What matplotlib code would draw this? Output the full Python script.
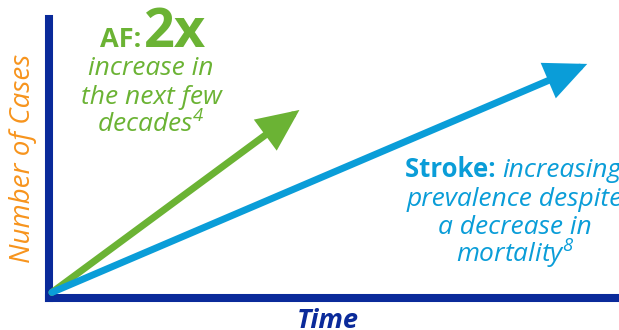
import matplotlib.pyplot as plt

plt.rcParams['font.family'] = ['Open Sans', 'DejaVu Sans']
plt.rcParams['mathtext.fontset'] = 'custom'
plt.rcParams['mathtext.rm'] = 'Open Sans:italic'
plt.rcParams['mathtext.it'] = 'Open Sans:italic'

# arrows: (time, cases) start and end, in axis units 0..100
af_time = [0.5, 43.5]
af_cases = [2, 67.4]
stroke_time = [0.5, 93.5]
stroke_cases = [2, 83.9]

af_lines = ['increase in', 'the next few', 'decades$^{4}$']
stroke_lines = ['prevalence despite', 'a decrease in', 'mortality$^{8}$']

navy = '#0a2a9a'
green = '#6bb334'
blue = '#0a9dd8'
orange = '#f7941d'

W, H = 619, 330
fig = plt.figure(figsize=(W / 100, H / 100), dpi=100)
ax = fig.add_axes([49 / W, 1 - 298 / H, 0.93, (298 - 19) / H])
ax.set_xlim(0, 100)
ax.set_ylim(0, 100)
ax.set_xticks([])
ax.set_yticks([])
for s in ['top', 'right']:
    ax.spines[s].set_visible(False)
for s in ['left', 'bottom']:
    ax.spines[s].set_linewidth(5.8)
    ax.spines[s].set_color(navy)
    ax.spines[s].set_capstyle('projecting')


def arrow(t, c, col):
    ax.annotate('', xy=(t[1], c[1]), xytext=(t[0], c[0]),
                arrowprops=dict(arrowstyle='-|>,head_length=1.1,head_width=0.5',
                                lw=5, color=col, mutation_scale=20,
                                shrinkA=0, shrinkB=0, joinstyle='miter'))


arrow(af_time, af_cases, green)
arrow(stroke_time, stroke_cases, blue)


def px(x, y):
    return x / W, 1 - y / H


# AF text
fig.text(*px(141, 47), 'AF:', color=green, fontsize=19.5, fontweight='bold',
         ha='right', va='baseline')
fig.text(*px(144, 47), '2x', color=green, fontsize=39, fontweight='bold',
         ha='left', va='baseline')
for i, line in enumerate(af_lines):
    fig.text(*px(151, 75 + i * 29), line, color=green, fontsize=19,
             style='italic', ha='center', va='baseline')

# Stroke text
t1 = fig.text(*px(405, 177), 'Stroke: ', color=blue, fontsize=18.5,
              fontweight='bold', ha='left', va='baseline')
fig.canvas.draw()
bb = t1.get_window_extent()
fig.text(bb.x1 / W, 1 - 177 / H, 'increasing', color=blue, fontsize=19,
         style='italic', ha='left', va='baseline')
for i, line in enumerate(stroke_lines):
    fig.text(*px(515, 206 + i * 28.5), line, color=blue, fontsize=19,
             style='italic', ha='center', va='baseline')

# axis labels
fig.text(*px(37, 158), 'Number of Cases', color=orange, fontsize=20,
         fontweight=500, style='italic', rotation=90, ha='right', va='center')
fig.text(*px(328, 328), 'Time', color=navy, fontsize=19.5,
         fontweight='bold', style='italic', ha='center', va='baseline')

fig.savefig('out.png', dpi=100)
